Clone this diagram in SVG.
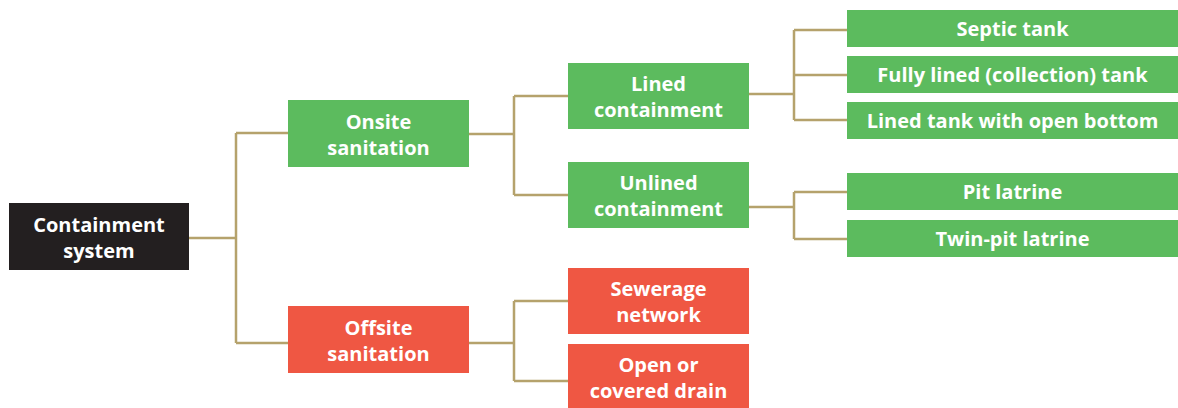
<svg xmlns="http://www.w3.org/2000/svg" width="1178" height="408" viewBox="0 0 1178 408">
  <style>
    .lbl { font-family: "Open Sans", "Liberation Sans", sans-serif; font-weight: bold; font-size: 20px; fill: #ffffff; text-anchor: middle; }
    .root { fill: #231f20; }
    .green { fill: #5cbb5e; }
    .red { fill: #ef5743; }
    .wire { fill: none; stroke: #b5a26c; stroke-width: 2.5; }
  </style>
  <rect width="1178" height="408" fill="#ffffff"/>

  <g id="connectors">
    <path class="wire" d="M189 238 H236 M236 133 V343 M236 133 H288 M236 343 H288"/>
    <path class="wire" d="M469 134 H514 M514 96 V195 M514 96 H568 M514 195 H568"/>
    <path class="wire" d="M469 343 H514 M514 301 V381 M514 301 H568 M514 381 H568"/>
    <path class="wire" d="M749 94 H794 M794 30 V120 M794 30 H847 M794 75 H847 M794 120 H847"/>
    <path class="wire" d="M749 207 H794 M794 192 V239 M794 192 H847 M794 239 H847"/>
  </g>

  <g id="containment-system">
    <rect class="root" x="9" y="203" width="180" height="67"/>
    <text class="lbl" x="99" y="232">Containment</text>
    <text class="lbl" x="99" y="258">system</text>
  </g>

  <g id="onsite-sanitation">
    <rect class="green" x="288" y="100" width="181" height="67"/>
    <text class="lbl" x="378.5" y="129">Onsite</text>
    <text class="lbl" x="378.5" y="155">sanitation</text>
  </g>

  <g id="offsite-sanitation">
    <rect class="red" x="288" y="306" width="181" height="67"/>
    <text class="lbl" x="378.5" y="335">Offsite</text>
    <text class="lbl" x="378.5" y="361">sanitation</text>
  </g>

  <g id="lined-containment">
    <rect class="green" x="568" y="63" width="181" height="66"/>
    <text class="lbl" x="658.5" y="91">Lined</text>
    <text class="lbl" x="658.5" y="117">containment</text>
  </g>

  <g id="unlined-containment">
    <rect class="green" x="568" y="162" width="181" height="66"/>
    <text class="lbl" x="658.5" y="190">Unlined</text>
    <text class="lbl" x="658.5" y="216">containment</text>
  </g>

  <g id="sewerage-network">
    <rect class="red" x="568" y="268" width="181" height="66"/>
    <text class="lbl" x="658.5" y="296">Sewerage</text>
    <text class="lbl" x="658.5" y="322">network</text>
  </g>

  <g id="open-covered-drain">
    <rect class="red" x="568" y="344" width="181" height="64"/>
    <text class="lbl" x="658.5" y="372">Open or</text>
    <text class="lbl" x="658.5" y="398">covered drain</text>
  </g>

  <g id="septic-tank">
    <rect class="green" x="847" y="10" width="331" height="37"/>
    <text class="lbl" x="1012.5" y="36">Septic tank</text>
  </g>

  <g id="fully-lined-tank">
    <rect class="green" x="847" y="56" width="331" height="37"/>
    <text class="lbl" x="1012.5" y="82">Fully lined (collection) tank</text>
  </g>

  <g id="lined-tank-open-bottom">
    <rect class="green" x="847" y="102" width="331" height="37"/>
    <text class="lbl" x="1012.5" y="128">Lined tank with open bottom</text>
  </g>

  <g id="pit-latrine">
    <rect class="green" x="847" y="173" width="331" height="37"/>
    <text class="lbl" x="1012.5" y="199">Pit latrine</text>
  </g>

  <g id="twin-pit-latrine">
    <rect class="green" x="847" y="220" width="331" height="37"/>
    <text class="lbl" x="1012.5" y="246">Twin-pit latrine</text>
  </g>
</svg>
